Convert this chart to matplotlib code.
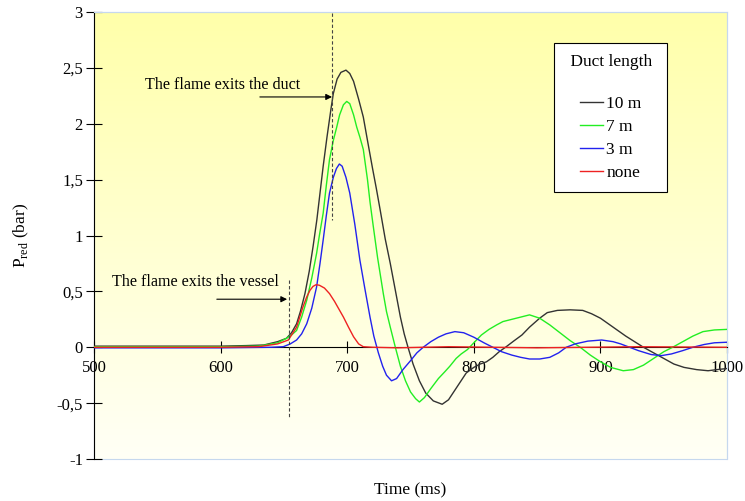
import matplotlib
matplotlib.use("Agg")
import matplotlib.pyplot as plt
import numpy as np
from matplotlib.ticker import FuncFormatter, MultipleLocator
from matplotlib.patches import Rectangle

plt.rcParams['font.family'] = ['Liberation Serif', 'DejaVu Serif']
plt.rcParams['mathtext.fontset'] = 'custom'
plt.rcParams['mathtext.rm'] = 'Liberation Serif'

# ---------- data (time in ms, pressure in bar)
t_10 = [500, 550, 600, 620, 634, 645, 652, 656, 660, 663, 666.6, 670, 673, 676, 678.5, 681, 684, 687,
        689, 692, 695, 699, 702, 705, 709, 712.7, 716, 720, 723, 726, 730, 734, 738, 742, 745, 748,
        752, 757, 762, 768, 775, 780, 787, 794, 800, 805, 810, 815, 820, 825, 832, 838, 844, 852,
        858, 866, 876, 886, 893, 900, 910, 920, 927, 934, 942, 950, 958, 966, 976, 985, 992, 1000]
p_10 = [0.01, 0.01, 0.01, 0.015, 0.02, 0.05, 0.08, 0.13, 0.21, 0.32, 0.48, 0.68, 0.90, 1.14, 1.38, 1.62, 1.88, 2.12,
        2.27, 2.40, 2.46, 2.48, 2.45, 2.38, 2.22, 2.06, 1.85, 1.60, 1.42, 1.23, 0.97, 0.75, 0.51, 0.27, 0.12, 0.0,
        -0.15, -0.30, -0.41, -0.48, -0.51, -0.47, -0.35, -0.23, -0.18, -0.15, -0.13, -0.09, -0.04, 0.0, 0.06, 0.11, 0.18, 0.26,
        0.31, 0.33, 0.335, 0.33, 0.30, 0.26, 0.18, 0.10, 0.05, 0.0, -0.05, -0.10, -0.15, -0.18, -0.20, -0.21, -0.20, -0.19]

t_7 = [500, 600, 630, 645, 652, 656, 660, 664, 668, 672, 675.8, 678, 681, 683.5, 686, 689, 691.7, 694,
       697, 699.6, 702, 705, 707.5, 710, 712.7, 716, 718, 720.6, 724, 728.5, 731, 734, 738, 742, 746,
       750, 754, 757, 761, 766, 772, 777, 781, 786, 790, 795, 800, 806, 812, 818, 823, 830, 837, 844,
       852, 860, 868, 876, 884, 892, 900, 908, 918, 926, 934, 942, 950, 957, 965, 973, 981, 990, 1000]
p_7 = [0.005, 0.005, 0.01, 0.04, 0.08, 0.11, 0.15, 0.27, 0.42, 0.62, 0.84, 1.0, 1.2, 1.45, 1.68, 1.85, 1.97, 2.08,
       2.17, 2.20, 2.18, 2.08, 1.97, 1.88, 1.77, 1.50, 1.30, 1.08, 0.80, 0.48, 0.32, 0.18, 0.0, -0.17, -0.30,
       -0.40, -0.46, -0.49, -0.45, -0.37, -0.28, -0.22, -0.17, -0.10, -0.06, -0.02, 0.04, 0.11, 0.16, 0.20, 0.23, 0.25, 0.27, 0.29,
       0.26, 0.20, 0.13, 0.06, 0.0, -0.07, -0.13, -0.18, -0.21, -0.20, -0.16, -0.10, -0.04, 0.0, 0.05, 0.10, 0.14, 0.155, 0.16]

t_3 = [500, 600, 640, 649.5, 655, 660, 664, 668, 672, 675.8, 678.5, 681, 683.5, 686, 689, 691.5, 693.8, 696,
       699, 702, 706, 710, 714, 718, 721, 724.6, 728, 731, 735, 739, 744, 750, 755, 760, 766, 772, 778,
       785, 792, 800, 808, 815, 822, 830, 837, 844, 852, 860, 867, 873, 880, 890, 901, 910, 916, 923,
       930, 940, 948, 956, 965, 973, 982, 990, 1000]
p_3 = [-0.005, -0.005, 0.0, 0.005, 0.03, 0.065, 0.12, 0.21, 0.35, 0.54, 0.75, 0.96, 1.18, 1.38, 1.52, 1.60, 1.64, 1.62,
       1.52, 1.38, 1.10, 0.78, 0.52, 0.27, 0.10, -0.05, -0.17, -0.25, -0.30, -0.28, -0.20, -0.12, -0.05, 0.0, 0.05, 0.09, 0.12,
       0.14, 0.13, 0.09, 0.04, 0.0, -0.04, -0.07, -0.09, -0.105, -0.105, -0.09, -0.05, 0.0, 0.03, 0.055, 0.065, 0.05, 0.03, 0.0,
       -0.03, -0.065, -0.075, -0.06, -0.03, 0.0, 0.025, 0.04, 0.045]

t_0 = [500, 600, 630, 645, 653.5, 660, 665, 668, 670.6, 673, 675.4, 678, 682, 686, 690, 694, 697, 701,
       705, 709, 712.7, 720, 740, 780, 850, 930, 1000]
p_0 = [0.0, 0.0, 0.005, 0.03, 0.065, 0.18, 0.36, 0.45, 0.51, 0.545, 0.56, 0.555, 0.53, 0.48, 0.41, 0.33, 0.27, 0.18,
       0.094, 0.03, 0.005, 0.0, -0.005, 0.005, -0.005, 0.005, 0.0]

series = [(t_10, p_10, '10 m', '#333333'),
          (t_7, p_7, '7 m', '#22EE22'),
          (t_3, p_3, '3 m', '#2222EE'),
          (t_0, p_0, 'none', '#EE2222')]

# events
t_vessel, t_duct = 654, 688

# ---------- figure
fig = plt.figure(figsize=(7.45, 5.01), dpi=100)
ax = fig.add_axes([0.1262, 0.0838, 0.8497, 0.8922])

# yellow -> white gradient behind the plot area
grad = np.linspace(0, 1, 256).reshape(-1, 1)
top = np.array([255, 255, 170]) / 255.
bot = np.array([255, 255, 246]) / 255.
img = top[None, None, :] * (1 - grad[:, :, None]) + bot[None, None, :] * grad[:, :, None]
ax.imshow(img, extent=[0, 1, 0, 1], transform=ax.transAxes, aspect='auto', zorder=0)

for t, p, lab, col in series:
    ax.plot(t, p, color=col, lw=1.0, label=lab, zorder=3)

ax.set_xlim(500, 1000)
ax.set_ylim(-1, 3)

# dashed markers
ax.plot([t_vessel, t_vessel], [0.6, -0.62], color='#444444', lw=0.8, dashes=(3, 2), zorder=4)
ax.plot([t_duct, t_duct], [2.99, 1.14], color='#444444', lw=0.8, dashes=(3, 2), zorder=4)

arrow = dict(arrowstyle='-|>', color='black', lw=0.8, mutation_scale=9, shrinkA=0, shrinkB=0)
ax.annotate('', xy=(t_duct, 2.24), xytext=(631, 2.24), arrowprops=arrow, zorder=5)
ax.annotate('', xy=(652.5, 0.43), xytext=(597, 0.43), arrowprops=arrow, zorder=5)
ax.text(540.3, 2.347, 'The flame exits the duct', fontsize=11.6, va='center', ha='left')
ax.text(514.2, 0.584, 'The flame exits the vessel', fontsize=11.6, va='center', ha='left')

# axes styling
ax.spines['bottom'].set_position(('data', 0))
ax.spines['bottom'].set_linewidth(0.8)
ax.spines['left'].set_linewidth(0.8)
for s in ['top', 'right']:
    ax.spines[s].set_color('#C6D8EE')
    ax.spines[s].set_linewidth(0.8)
ax.add_patch(Rectangle((0, 0), 1, 1, transform=ax.transAxes, fill=False,
                       edgecolor='#C6D8EE', lw=0.8, zorder=1, clip_on=False))

ax.xaxis.set_major_locator(MultipleLocator(100))
ax.yaxis.set_major_locator(MultipleLocator(0.5))
ax.yaxis.set_major_formatter(FuncFormatter(lambda v, pos: ('%g' % v).replace('.', ',')))
ax.tick_params(axis='x', direction='inout', length=8, width=0.8, pad=5.5, labelsize=12)
ax.tick_params(axis='y', direction='inout', length=12, width=0.8, pad=2, labelsize=12)

ax.set_xlabel('Time (ms)', fontsize=12.5)
ax.set_ylabel(r'P$_{\mathregular{red}}$ (bar)', fontsize=12.5)
ax.xaxis.set_label_coords(0.5, -0.052)
ax.yaxis.set_label_coords(-0.0995, 0.5)

leg = ax.legend(title=' Duct length \n', loc='upper left', bbox_to_anchor=(0.727, 0.931),
                fontsize=12.5, title_fontsize=12.5, frameon=True, fancybox=False,
                edgecolor='black', framealpha=1, borderpad=0.65, labelspacing=0.4,
                handlelength=1.3, handletextpad=0.2, borderaxespad=0)
leg.get_frame().set_linewidth(0.8)
leg.set_zorder(6)

fig.savefig('out.png', dpi=100)
